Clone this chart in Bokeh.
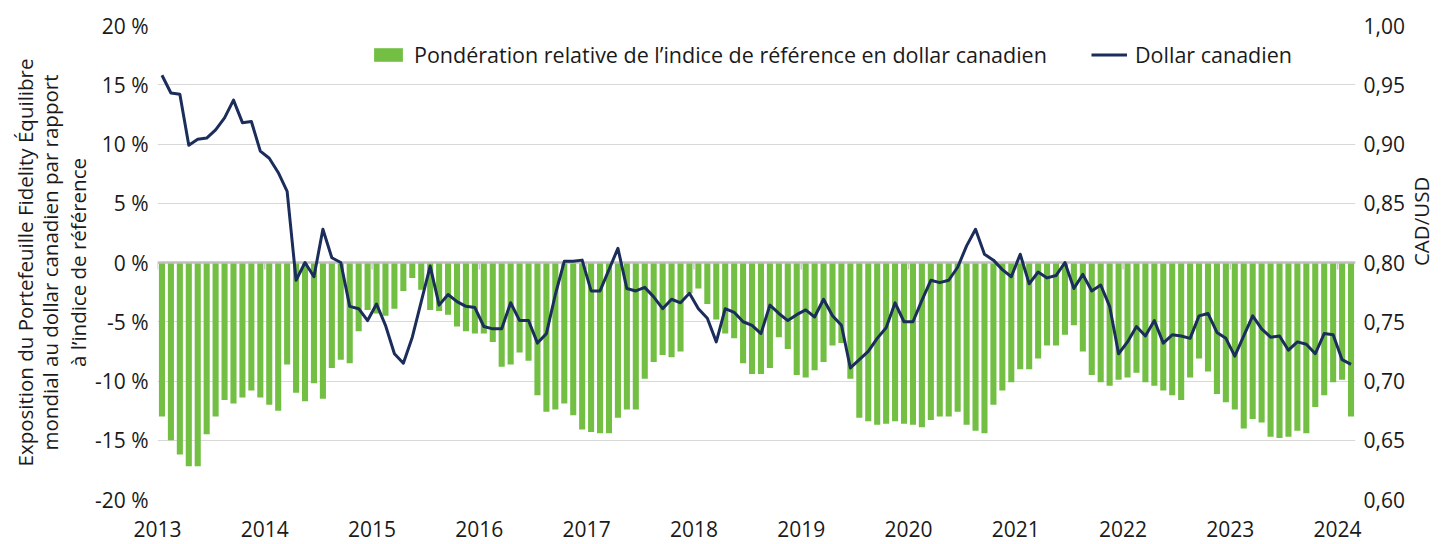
import math
from bokeh.plotting import figure
from bokeh.models import (Range1d, LinearAxis, FixedTicker, CustomJSTickFormatter,
                          Legend, LegendItem, ColumnDataSource, Title)
from bokeh.embed import file_html
from bokeh.resources import INLINE

# ---------------- data ----------------
years = ["2013", "2014", "2015", "2016", "2017", "2018", "2019", "2020",
         "2021", "2022", "2023", "2024"]

# monthly relative weight of CAD vs benchmark (%), Jan 2013 .. Feb 2024
weight = [
    -13.0, -15.0, -16.2, -17.2, -17.2, -14.5, -13.0, -11.6, -11.9, -11.4, -10.8, -11.4,
    -12.0, -12.5, -8.6, -11.0, -11.7, -10.2, -11.5, -8.9, -8.2, -8.5, -5.8, -4.0,
    -4.3, -4.5, -3.9, -2.4, -1.3, -2.3, -4.0, -4.1, -4.4, -5.4, -5.8, -6.0,
    -6.0, -6.7, -8.8, -8.6, -7.6, -8.3, -11.2, -12.6, -12.4, -11.9, -12.9, -14.1,
    -14.3, -14.4, -14.4, -13.1, -12.4, -12.4, -9.8, -8.4, -7.8, -8.0, -7.5, -2.6,
    -2.2, -3.5, -4.8, -6.0, -6.4, -8.5, -9.4, -9.4, -8.9, -6.3, -7.3, -9.5,
    -9.7, -9.1, -8.4, -7.0, -6.8, -9.8, -13.1, -13.4, -13.7, -13.6, -13.4, -13.6,
    -13.7, -13.9, -13.3, -13.0, -13.0, -12.6, -13.7, -14.2, -14.4, -12.0, -10.8, -10.1,
    -9.0, -9.0, -8.1, -7.0, -7.0, -6.1, -5.3, -7.5, -9.5, -10.1, -10.4, -9.9,
    -9.7, -9.3, -10.1, -10.4, -10.8, -11.2, -11.6, -9.7, -8.1, -9.2, -11.1, -11.8,
    -12.4, -14.0, -13.2, -13.5, -14.7, -14.8, -14.7, -14.2, -14.4, -12.2, -11.2, -10.1,
    -9.9, -13.0,
]

# monthly CAD/USD
cad = [
    0.958, 0.943, 0.942, 0.899, 0.904, 0.905, 0.912, 0.922, 0.937, 0.918, 0.919, 0.894,
    0.888, 0.876, 0.860, 0.785, 0.800, 0.788, 0.828, 0.804, 0.800, 0.763, 0.761, 0.751,
    0.765, 0.747, 0.723, 0.715, 0.737, 0.767, 0.797, 0.764, 0.773, 0.767, 0.763, 0.762,
    0.746, 0.744, 0.744, 0.766, 0.751, 0.751, 0.732, 0.740, 0.773, 0.801, 0.801, 0.802,
    0.776, 0.776, 0.794, 0.812, 0.778, 0.776, 0.779, 0.771, 0.761, 0.769, 0.766, 0.774,
    0.761, 0.753, 0.733, 0.761, 0.758, 0.750, 0.747, 0.740, 0.764, 0.757, 0.751, 0.756,
    0.760, 0.754, 0.769, 0.755, 0.747, 0.711, 0.718, 0.725, 0.736, 0.745, 0.766, 0.750,
    0.750, 0.768, 0.785, 0.783, 0.785, 0.796, 0.814, 0.828, 0.807, 0.802, 0.794, 0.788,
    0.807, 0.782, 0.792, 0.787, 0.789, 0.800, 0.778, 0.790, 0.776, 0.781, 0.763, 0.723,
    0.733, 0.746, 0.738, 0.751, 0.732, 0.739, 0.738, 0.736, 0.755, 0.757, 0.741, 0.736,
    0.721, 0.738, 0.755, 0.744, 0.737, 0.738, 0.726, 0.733, 0.731, 0.723, 0.740, 0.739,
    0.718, 0.714,
]

legend_bar = "Pondération relative de l’indice de référence en dollar canadien"
legend_line = "Dollar canadien"
left_title = ["Exposition du Portefeuille Fidelity Équilibre",
              "mondial au dollar canadien par rapport",
              "à l’indice de référence"]
right_title = "CAD/USD"

# ---------------- figure ----------------
FONT = "Open Sans"
TXT = "#1a1a1a"
GREEN = "#72bf44"
NAVY = "#1b2d5b"
GRID = "#d9d9d9"
FS = "21px"
TITLE_FS = "20.5px"

n = len(weight)
xs = [i + 0.5 for i in range(n)]
year_ticks = [12 * i for i in range(len(years))]

p = figure(width=1452, height=544, output_backend="svg", toolbar_location=None,
           x_range=Range1d(0, n), y_range=Range1d(-20, 20),
           min_border_left=157, min_border_right=92, min_border_top=25,
           min_border_bottom=45)
p.outline_line_color = None
p.background_fill_color = "white"
p.border_fill_color = "white"

p.extra_y_ranges = {"cad": Range1d(0.60, 1.00)}

src = ColumnDataSource(dict(x=xs, w=weight, c=cad))

bars = p.vbar(x="x", top="w", bottom=0, width=0.68, source=src,
              fill_color=GREEN, line_color=None)
p.hspan(y=[0], line_color="#bfbfbf", line_width=2.5)
p.segment(x0=year_ticks, x1=year_ticks, y0=[0] * len(year_ticks),
          y1=[-0.6] * len(year_ticks), line_color="#c8c8c8", line_width=1.5)
line = p.line(x="x", y="c", source=src, y_range_name="cad",
              line_color=NAVY, line_width=3, line_join="round")

# grid
p.xgrid.visible = False
p.ygrid.ticker = FixedTicker(ticks=list(range(-20, 21, 5)))
p.ygrid.grid_line_color = GRID
p.ygrid.grid_line_width = 1


def style_axis(ax, standoff, size=FS):
    ax.axis_line_color = None
    ax.major_tick_line_color = None
    ax.minor_tick_line_color = None
    ax.major_tick_out = 0
    ax.major_tick_in = 0
    ax.minor_tick_out = 0
    ax.minor_tick_in = 0
    ax.major_label_standoff = standoff
    ax.major_label_text_font = FONT
    ax.major_label_text_font_size = size
    ax.major_label_text_color = TXT


# x axis
xa = p.xaxis[0]
xa.ticker = FixedTicker(ticks=year_ticks)
xa.major_label_overrides = {t: y for t, y in zip(year_ticks, years)}
style_axis(xa, 21)

# left axis
ya = p.yaxis[0]
ya.ticker = FixedTicker(ticks=list(range(-20, 21, 5)))
ya.formatter = CustomJSTickFormatter(code="return tick.toFixed(0) + ' %';")
style_axis(ya, 9)

# right axis (values)
ra = LinearAxis(y_range_name="cad",
                ticker=FixedTicker(ticks=[0.60, 0.65, 0.70, 0.75, 0.80, 0.85, 0.90, 0.95, 1.00]),
                formatter=CustomJSTickFormatter(code="return tick.toFixed(2).replace('.', ',');"))
style_axis(ra, 8)
p.add_layout(ra, "right")

# right axis title, drawn as a single rotated label reading bottom-to-top
ca = LinearAxis(y_range_name="cad", ticker=FixedTicker(ticks=[0.797]),
                formatter=CustomJSTickFormatter(args=dict(t=right_title), code="return t;"))
style_axis(ca, 14, TITLE_FS)
ca.major_label_orientation = math.pi / 2
p.add_layout(ca, "right")

# left title: three stacked titles (closest to the frame first)
for k, txt in enumerate(reversed(left_title)):
    t = Title(text=txt, align="center", standoff=0, offset=0,
              text_font=FONT, text_font_size=TITLE_FS,
              text_font_style="normal", text_color=TXT)
    if k > 0:
        try:
            t.standoff = -5
        except Exception:
            pass
    p.add_layout(t, "left")

# legends
common = dict(orientation="horizontal", glyph_width=36, glyph_height=17, label_standoff=8,
              padding=0, margin=0, border_line_color=None, background_fill_alpha=0,
              label_text_font=FONT, label_text_font_size="21.5px",
              label_text_color=TXT, label_height=20)
leg1 = Legend(items=[LegendItem(label=legend_bar, renderers=[bars])],
              location=(213, 430), **common)
leg2 = Legend(items=[LegendItem(label=legend_line, renderers=[line])],
              location=(934, 430), **common)
p.add_layout(leg1, "center")
p.add_layout(leg2, "center")

open("out.html", "w").write(file_html(p, INLINE))
